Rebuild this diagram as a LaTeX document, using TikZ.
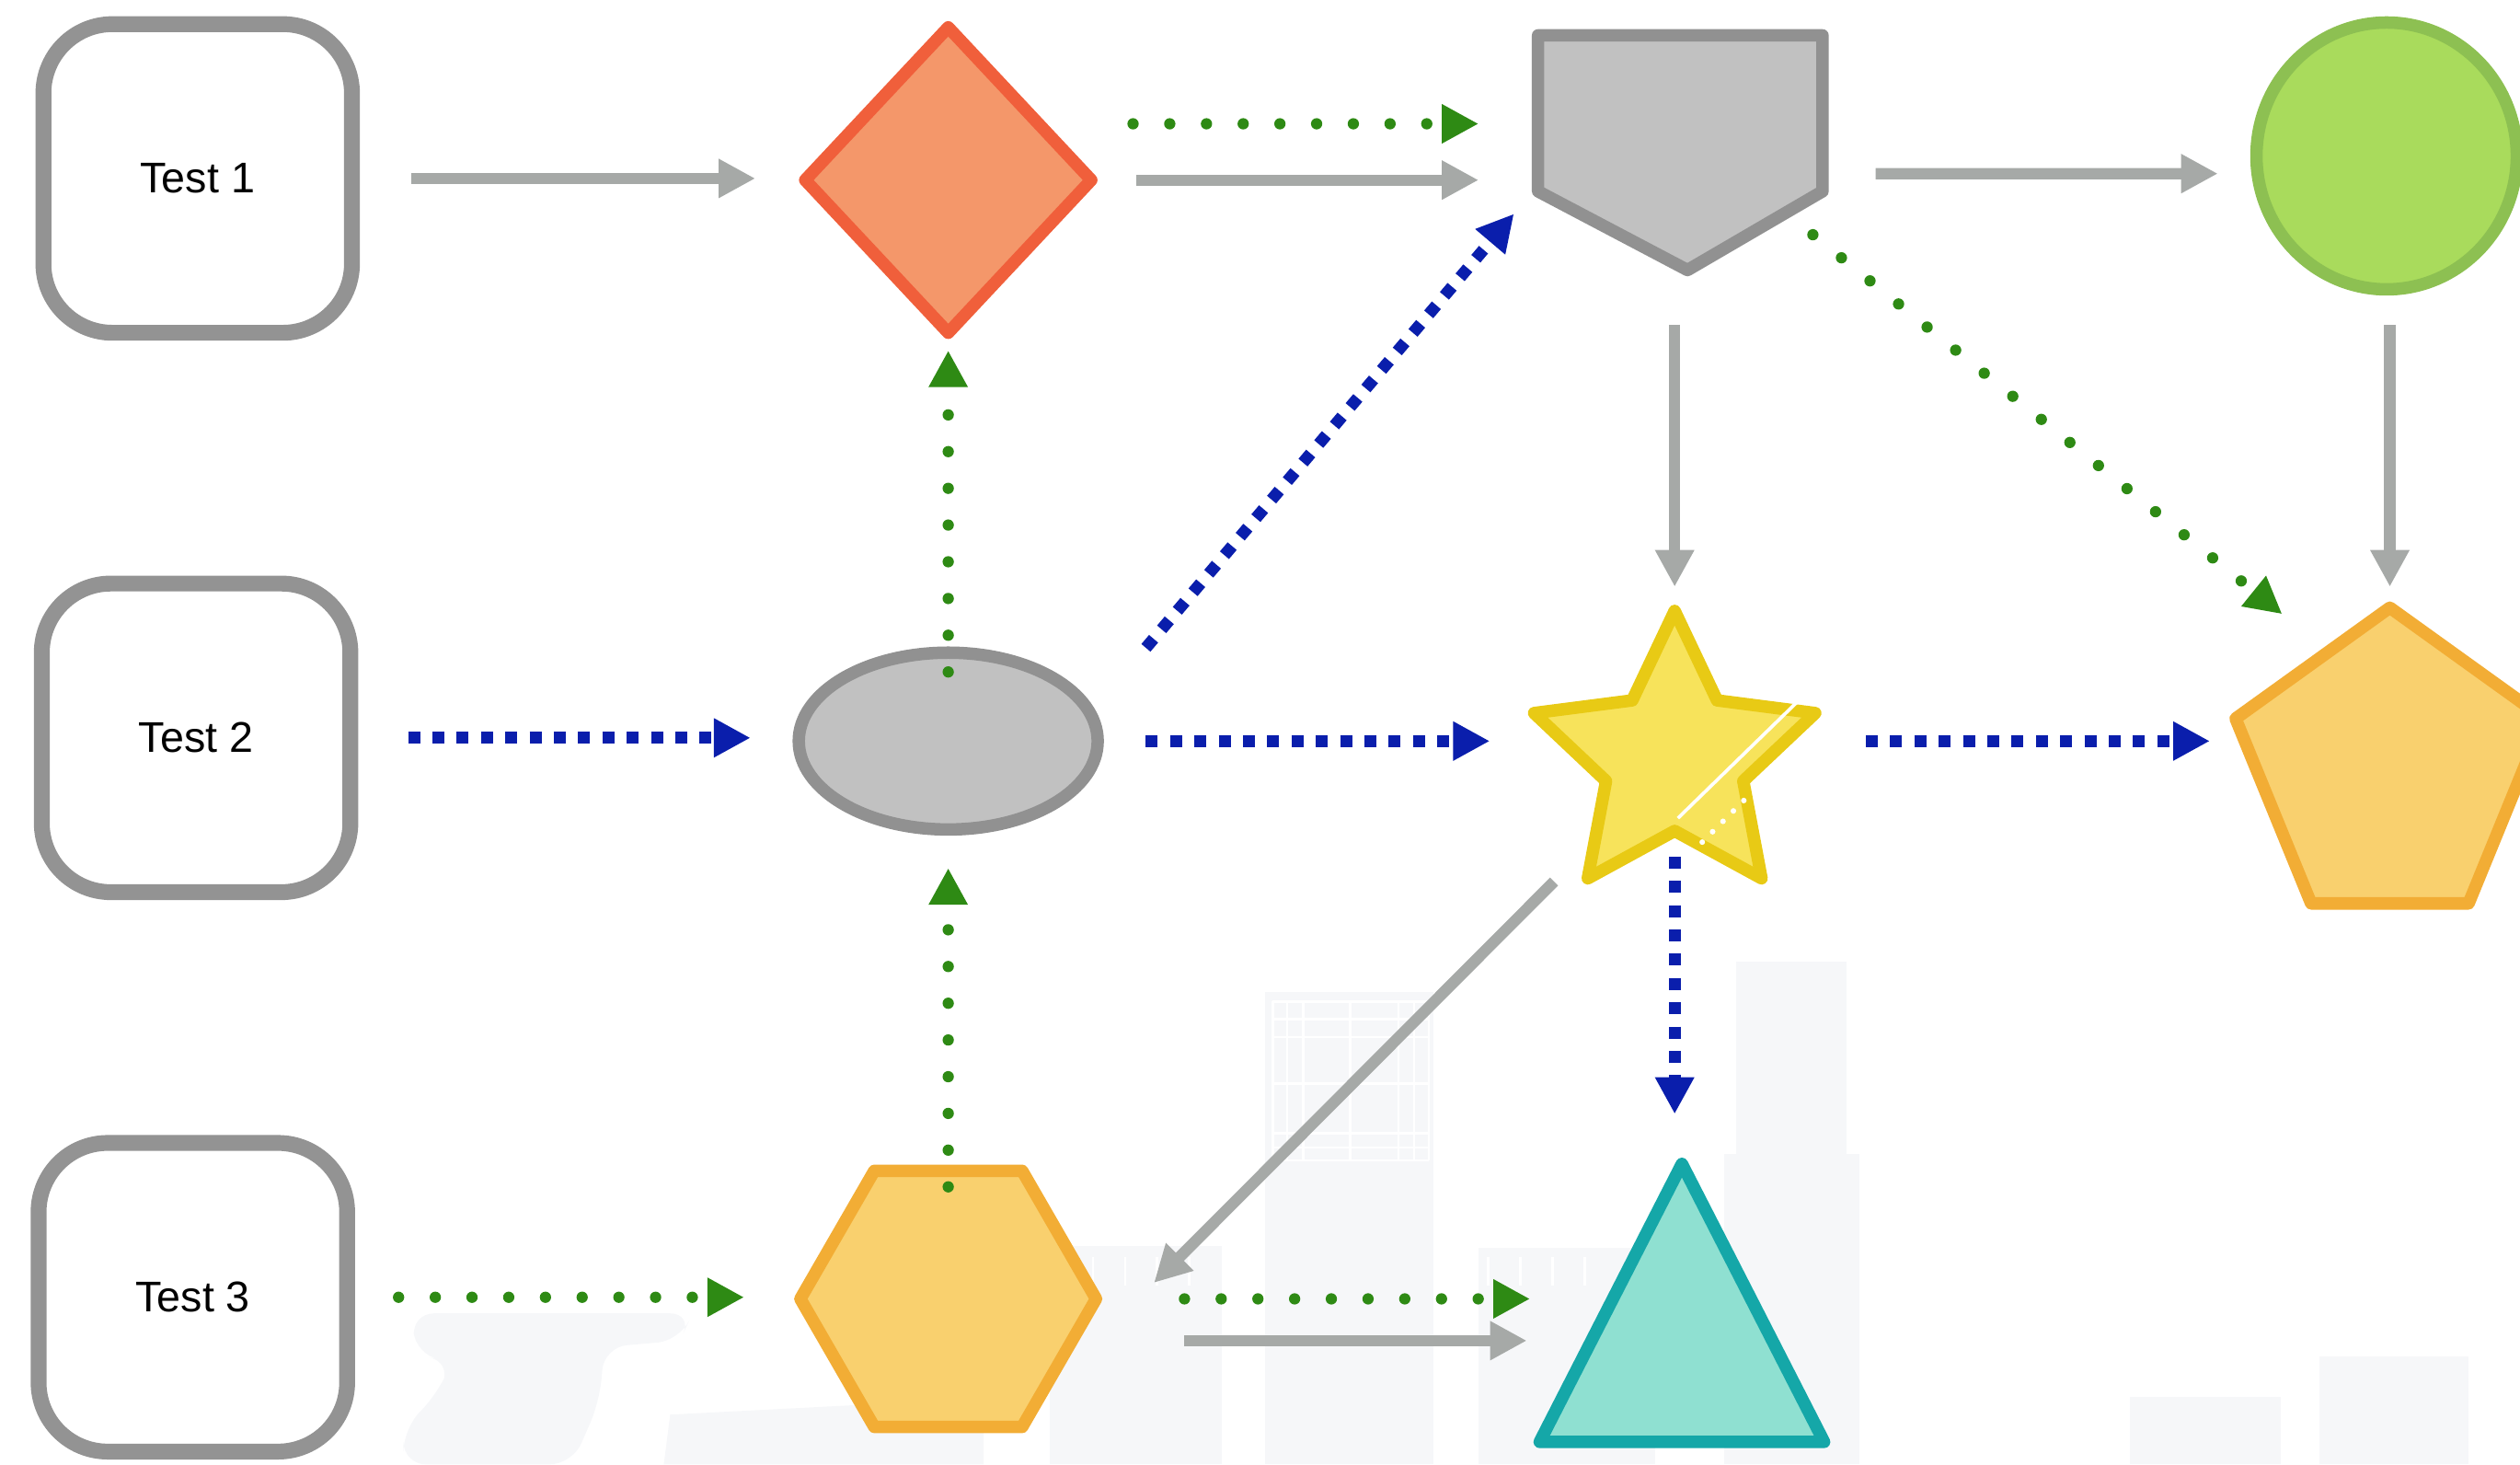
\documentclass[tikz,border=0pt]{standalone}
\usepackage{fontspec}
\setmainfont{Liberation Sans}
\usetikzlibrary{arrows.meta,shapes.geometric}

\definecolor{boxgray}{HTML}{939393}
\definecolor{arrowgray}{HTML}{A6A9A7}
\definecolor{dotgreen}{HTML}{2E8A14}
\definecolor{dashblue}{HTML}{0A1EAC}
\definecolor{bldg}{HTML}{F6F7F9}
\definecolor{diafill}{HTML}{F4976A}
\definecolor{diadraw}{HTML}{F05F3B}
\definecolor{shapegray}{HTML}{C1C1C1}
\definecolor{edgegray}{HTML}{919191}
\definecolor{ballfill}{HTML}{A9DB5C}
\definecolor{balldraw}{HTML}{8DC052}
\definecolor{starfill}{HTML}{F7E35B}
\definecolor{stardraw}{HTML}{E8CA15}
\definecolor{ambfill}{HTML}{F9D06E}
\definecolor{ambdraw}{HTML}{F2AD35}
\definecolor{trifill}{HTML}{8FE0D1}
\definecolor{tridraw}{HTML}{15A7A8}

\tikzset{
	testbox/.style={draw=boxgray, line width=2.8pt, rounded corners=0.43cm, minimum width=1.92cm, minimum height=1.92cm, inner sep=0pt, outer sep=0pt, font=\fontsize{7.6}{9}\selectfont},
	blob/.style={line width=2.2pt, line join=round, inner sep=0pt, outer sep=0pt},
	spot/.style={inner sep=0pt, outer sep=0pt},
	grayline/.style={draw=arrowgray, line width=2pt, -{Triangle[length=6.5pt,width=6.5pt]}},
	greendots/.style={draw=dotgreen, line width=2pt, line cap=round, dash pattern=on 0pt off 6.5pt, -{Triangle[length=6.5pt,width=6.5pt]}},
	bluedash/.style={draw=dashblue, line width=2.1pt, dash pattern=on 2.1pt off 2.2pt, -{Triangle[length=6.5pt,width=6.5pt]}}
}

\begin{document}
\begin{tikzpicture}
	\useasboundingbox (0,0) rectangle (15.68,-9.11);
	\clip (0,0) rectangle (15.68,-9.11);
	
	% faint buildings in the background
	\fill[bldg, rounded corners=4pt] (2.56,-8.17) -- (4.31,-8.17) -- (4.23,-8.34) -- (3.76,-8.38) -- (3.73,-8.72) -- (3.56,-9.11) -- (2.51,-9.11) -- (2.51,-8.89) -- (2.73,-8.66) -- (2.81,-8.47) -- (2.59,-8.43) -- cycle;
	\fill[bldg] (4.17,-8.80) -- (6.12,-8.70) -- (6.12,-9.11) -- (4.13,-9.11) -- cycle;
	\fill[bldg] (6.53,-7.75) rectangle (7.60,-9.11);
	\fill[bldg] (7.87,-6.17) rectangle (8.92,-9.11);
	\fill[bldg] (9.20,-7.76) rectangle (10.30,-9.11);
	\fill[bldg] (10.80,-5.98) rectangle (11.49,-9.11);
	\fill[bldg] (10.73,-7.18) rectangle (11.57,-9.11);
	\fill[bldg] (13.25,-8.69) rectangle (14.19,-9.11);
	\fill[bldg] (14.43,-8.44) rectangle (15.36,-9.11);
	
	% window grid
	\foreach \x in {7.92,8.01,8.11,8.40,8.70,8.80,8.89}
	\draw[white, line width=0.4pt] (\x,-6.23) -- (\x,-7.22);
	\foreach \y in {6.23,6.34,6.45,6.74,7.05,7.14,7.22}
	\draw[white, line width=0.4pt] (7.92,-\y) -- (8.89,-\y);
	\foreach \x in {6.60,6.80,7.00,7.20,7.40}
	\draw[white, line width=0.4pt] (\x,-7.82) -- (\x,-8.00);
	\foreach \x in {9.26,9.46,9.66,9.86}
	\draw[white, line width=0.4pt] (\x,-7.82) -- (\x,-8.00);
	
	% test boxes
	\node[testbox] (t1) at (1.23,-1.11) {Test 1};
	\node[testbox] (t2) at (1.22,-4.59) {Test 2};
	\node[testbox] (t3) at (1.20,-8.07) {Test 3};
	
	% shapes
	\node[blob, diamond, draw=diadraw, fill=diafill, minimum width=1.78cm, minimum height=1.90cm] (dia) at (5.90,-1.12) {};
	\node[spot, minimum width=1.77cm, minimum height=1.46cm] (gate) at (10.455,-0.95) {};
	\draw[blob, draw=edgegray, fill=shapegray] (gate.north west) -- (gate.north east) -- ([yshift=0.49cm]gate.south east) -- ([xshift=0.045cm]gate.south) -- ([yshift=0.49cm]gate.south west) -- cycle;
	\node[blob, ellipse, draw=balldraw, fill=ballfill, minimum width=1.62cm, minimum height=1.66cm] (ball) at (14.85,-0.97) {};
	\node[blob, ellipse, draw=edgegray, fill=shapegray, minimum width=1.86cm, minimum height=1.10cm] (egg) at (5.90,-4.61) {};
	\node[blob, star, star points=5, star point ratio=2.05, draw=stardraw, fill=starfill, minimum size=1.84cm] (star) at (10.42,-4.72) {};
	\draw[white, line width=0.6pt] ([shift={(0.80,0.39)}]star.center) -- ([shift={(0.02,-0.37)}]star.center);
	\draw[white, line width=1pt, line cap=round, dash pattern=on 0pt off 2.6pt] ([shift={(0.43,-0.26)}]star.center) -- ([shift={(0.17,-0.52)}]star.center);
	\node[spot, minimum width=1.92cm, minimum height=1.84cm] (penta) at (14.87,-4.70) {};
	\draw[blob, draw=ambdraw, fill=ambfill] (penta.north) -- ([yshift=-0.69cm]penta.north east) -- ([xshift=0.49cm]penta.south) -- ([xshift=-0.49cm]penta.south) -- ([yshift=-0.69cm]penta.north west) -- cycle;
	\node[blob, regular polygon, regular polygon sides=6, draw=ambdraw, fill=ambfill, minimum size=1.84cm] (hex) at (5.90,-8.08) {};
	\node[spot, minimum width=1.77cm, minimum height=1.73cm] (tri) at (10.465,-8.105) {};
	\draw[blob, draw=tridraw, fill=trifill] (tri.north) -- (tri.south east) -- (tri.south west) -- cycle;
	
	% gray arrows
	\draw[grayline, shorten <=0.37cm, shorten >=0.31cm] (t1.east) -- (t1.east -| dia.west);
	\draw[grayline, shorten <=0.28cm, shorten >=0.37cm] (dia.east) -- ([yshift=-0.17cm]gate.west);
	\draw[grayline, shorten <=0.33cm, shorten >=0.24cm] ([yshift=-0.13cm]gate.east) -- ([yshift=-0.11cm]ball.west);
	\draw[grayline, shorten <=0.34cm, shorten >=0.15cm] (star.north |- gate.south) -- (star.north);
	\draw[grayline, shorten <=0.22cm, shorten >=0.13cm] (penta.north |- ball.south) -- (penta.north);
	\draw[grayline] ([shift={(-0.21,-0.02)}]star.outer point 3) -- ([shift={(0.36,0.10)}]hex.east);
	\draw[grayline, shorten <=0.55cm, shorten >=0.08cm] ([yshift=-0.26cm]hex.east) -- ([yshift=-0.235cm]tri.west);
	
	% green dotted arrows
	\draw[greendots, shorten <=0.26cm, shorten >=0.37cm] ([yshift=0.35cm]dia.east) -- ([yshift=0.18cm]gate.west);
	\draw[greendots] ([shift={(-0.06,0.22)}]gate.south east) -- ([shift={(0.29,-0.04)}]penta.north west);
	\draw[greendots, shorten <=-0.12cm, shorten >=0.11cm] (egg.north) -- (dia.south);
	\draw[greendots, shorten <=-0.10cm, shorten >=0.24cm] (hex.north) -- (egg.south);
	\draw[greendots, shorten <=0.32cm, shorten >=0.35cm] (t3.east) -- (t3.east -| hex.west);
	\draw[greendots, shorten <=0.55cm, shorten >=0.06cm] (hex.east) -- (hex.east -| tri.west);
	
	% blue dashed arrows
	\draw[bluedash, shorten <=0.36cm, shorten >=0.30cm] (t2.east) -- (t2.east -| egg.west);
	\draw[bluedash] ([shift={(0.30,0.58)}]egg.east) -- ([shift={(-0.15,0.35)}]gate.south west);
	\draw[bluedash, shorten <=0.30cm, shorten >=0.275cm] (egg.east) -- (egg.east -| star.outer point 2);
	\draw[bluedash, shorten <=0.315cm, shorten >=0.16cm] (star.outer point 5 |- egg.east) -- (penta.west |- egg.east);
	\draw[bluedash, shorten <=0.16cm, shorten >=0.31cm] (star.inner point 3) -- (star.inner point 3 |- tri.north);
\end{tikzpicture}
\end{document}
